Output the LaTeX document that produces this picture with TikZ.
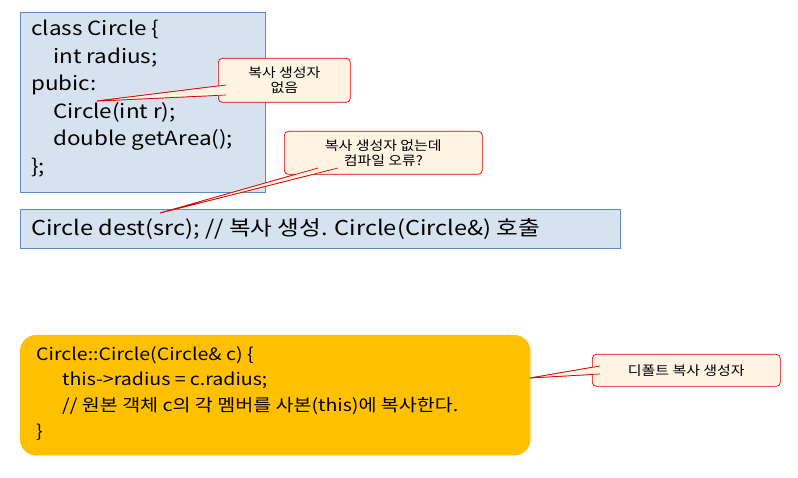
\documentclass[tikz,border=0pt]{standalone}
\usepackage{fontspec}
\setmainfont[FakeStretch=1.15]{Noto Sans CJK KR}
\definecolor{codefill}{HTML}{D6E3EF}
\definecolor{codeline}{HTML}{5B8CC8}
\definecolor{gold}{HTML}{FFC000}
\definecolor{callfill}{HTML}{FFF3E3}
\begin{document}
\begin{tikzpicture}[x=1pt,y=-1pt,
  code/.style={draw=codeline,fill=codefill,line width=0.8pt},
  call/.style={draw=red!85!black,fill=callfill,rounded corners=4pt,line width=0.7pt,font=\fontsize{13}{15}\selectfont,align=center,inner sep=0pt},
  wedge/.style={draw=red!85!black,fill=callfill,line width=0.7pt}]
\useasboundingbox (0,0) rectangle (798,478);
% box 1
\node[code,minimum width=245pt,minimum height=180pt,anchor=north west] (b1) at (20,12) {};
\node[anchor=north west,align=left,font=\fontsize{19.5}{27.5}\selectfont,inner sep=0pt] (t1) at (31,20)
{class Circle \{\\\hspace*{22pt}int radius;\\pubic:\\\hspace*{22pt}Circle(int r);\\\hspace*{22pt}double getArea();\\\};};
% box 2
\node[code,minimum width=600pt,minimum height=39pt,anchor=north west] (b2) at (20,209) {};
\node[anchor=west,font=\fontsize{20.5}{22}\selectfont,inner sep=0pt] (t2) at (31,229) {Circle dest(src); // 복사 생성. Circle(Circle\&) 호출};
% callouts
\coordinate (p1) at (97,101);
\coordinate (p2) at (160,213);
\coordinate (p3) at (530,378);
\fill[wedge] (226,85) -- (p1) -- (226,95) -- cycle;
\node[call,minimum width=132pt,minimum height=44pt,anchor=north west] (c1) at (218,58) {복사 생성자\\없음};
\draw[wedge] (226,85) -- (p1) -- (226,95);
\fill[wedge] (318,168) -- (p2) -- (338,168) -- cycle;
\node[call,minimum width=198pt,minimum height=43pt,anchor=north west] (c2) at (284,131) {복사 생성자 없는데\\컴파일 오류?};
\draw[wedge] (318,168) -- (p2) -- (338,168);
\fill[wedge] (600,366) -- (p3) -- (600,374) -- cycle;
\node[call,minimum width=188pt,minimum height=32pt,anchor=north west] (c3) at (592,354) {디폴트 복사 생성자};
\draw[wedge] (600,366) -- (p3) -- (600,374);
% orange box
\node[fill=gold,draw=gold,rounded corners=16pt,minimum width=510pt,minimum height=120pt,anchor=north west] (ob) at (20,335) {};
\node[anchor=north west,align=left,font=\fontsize{17}{25.7}\selectfont,inner sep=0pt] (ot) at (36,346)
{Circle::Circle(Circle\& c) \{\\\hspace*{26pt}this->radius = c.radius;\\\hspace*{26pt}// 원본 객체 c의 각 멤버를 사본(this)에 복사한다.\\\}};
\end{tikzpicture}
\end{document}
